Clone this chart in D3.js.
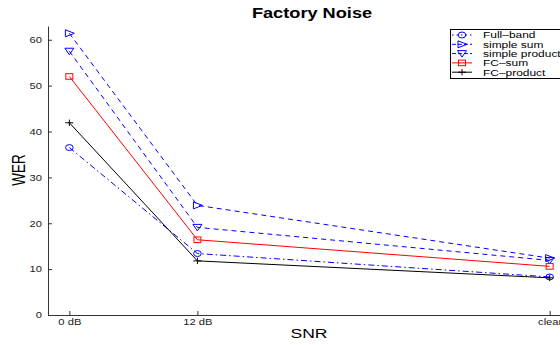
<!DOCTYPE html>
<html>
<head>
<meta charset="utf-8">
<script src="https://cdn.jsdelivr.net/npm/d3@7/dist/d3.min.js"></script>
<style>
  body { margin: 0; background: #fff; }
  svg { display: block; font-family: "Liberation Sans", Arial, sans-serif; }
</style>
</head>
<body>
<svg id="chart" width="560" height="345"></svg>
<script>
// SNR positions (clear plotted as 45 dB)
const snr = [0, 12, 45];
const snrLabels = ["0 dB", "12 dB", "clear"];
const yTicks = [0, 10, 20, 30, 40, 50, 60];

const fullBand = [36.5, 13.4, 8.3];
const simpleSum = [61.4, 23.9, 12.4];
const simpleProduct = [57.5, 19.1, 11.9];
const fcSum = [52.0, 16.4, 10.6];
const fcProduct = [41.9, 11.8, 8.1];

const seriesNames = ["Full\u2013band", "simple sum", "simple product", "FC\u2013sum", "FC\u2013product"];

const series = [
  { name: seriesNames[0], values: fullBand, color: "#0000ff", dash: "6,3,1.5,3", marker: "circle" },
  { name: seriesNames[1], values: simpleSum, color: "#0000ff", dash: "5,4", marker: "triRight" },
  { name: seriesNames[2], values: simpleProduct, color: "#0000ff", dash: "5,4", marker: "triDown" },
  { name: seriesNames[3], values: fcSum, color: "#ff0000", dash: null, marker: "square" },
  { name: seriesNames[4], values: fcProduct, color: "#000000", dash: null, marker: "plus" }
];

// the original figure is stretched horizontally, so text is widened too
const sx = 1.3;

const svg = d3.select("#chart");
const mLeft = 48, mBottom = 315, mTop = 26, mRight = 571;

const x = d3.scaleLinear().domain([-2, 47]).range([mLeft, mRight]);
const y = d3.scaleLinear().domain([0, 63]).range([mBottom, mTop]);

function stretchText(g) {
  g.selectAll("text").each(function () {
    const t = d3.select(this);
    const tx = +t.attr("x") || 0, ty = +t.attr("y") || 0;
    t.attr("transform", `translate(${tx},${ty}) scale(${sx},1)`).attr("x", 0).attr("y", 0);
  });
}

// y axis
svg.append("g")
  .attr("transform", `translate(${mLeft},0)`)
  .call(d3.axisLeft(y).tickValues(yTicks).tickSize(-4).tickPadding(6).tickSizeOuter(0))
  .call(g => g.selectAll("text").attr("font-size", 8.6).attr("fill", "#222"))
  .call(g => g.selectAll("line,path").attr("stroke", "#333"))
  .call(stretchText);

// x axis
svg.append("g")
  .attr("transform", `translate(0,${mBottom})`)
  .call(d3.axisBottom(x).tickValues(snr).tickFormat((d, i) => snrLabels[i]).tickSize(-4).tickPadding(4).tickSizeOuter(0))
  .call(g => g.selectAll("text").attr("font-size", 8.6).attr("fill", "#222"))
  .call(g => g.selectAll("line,path").attr("stroke", "#333"))
  .call(stretchText);

function drawMarker(g, type, cx, cy, color) {
  if (type === "circle") {
    g.append("ellipse").attr("cx", cx).attr("cy", cy).attr("rx", 3.8).attr("ry", 3)
      .attr("fill", "none").attr("stroke", color);
  } else if (type === "triRight") {
    g.append("path").attr("d", `M${cx - 4},${cy - 3.5}L${cx + 5},${cy}L${cx - 4},${cy + 3.5}Z`)
      .attr("fill", "none").attr("stroke", color);
  } else if (type === "triDown") {
    g.append("path").attr("d", `M${cx - 4.5},${cy - 3}L${cx + 4.5},${cy - 3}L${cx},${cy + 3.5}Z`)
      .attr("fill", "none").attr("stroke", color);
  } else if (type === "square") {
    g.append("rect").attr("x", cx - 3.5).attr("y", cy - 2.8).attr("width", 7).attr("height", 5.6)
      .attr("fill", "none").attr("stroke", color);
  } else if (type === "plus") {
    g.append("path").attr("d", `M${cx - 4},${cy}H${cx + 4}M${cx},${cy - 3.2}V${cy + 3.2}`)
      .attr("stroke", color);
  }
}

const line = d3.line().x((d, i) => x(snr[i])).y(d => y(d));

series.forEach(s => {
  svg.append("path")
    .datum(s.values)
    .attr("d", line)
    .attr("fill", "none")
    .attr("stroke", s.color)
    .attr("stroke-width", 1)
    .attr("stroke-dasharray", s.dash);
  const mg = svg.append("g");
  s.values.forEach((v, i) => drawMarker(mg, s.marker, x(snr[i]), y(v), s.color));
});

// title and labels
svg.append("text").attr("transform", `translate(312,18) scale(${sx},1)`).attr("text-anchor", "middle")
  .attr("font-size", 14).attr("font-weight", "bold").text("Factory Noise");
svg.append("text").attr("transform", `translate(309,338) scale(${sx},1)`).attr("text-anchor", "middle")
  .attr("font-size", 13.5).text("SNR");
svg.append("text").attr("transform", `translate(25,170) scale(${sx},1) rotate(-90)`).attr("text-anchor", "middle")
  .attr("font-size", 13.5).text("WER");

// legend
const legend = svg.append("g").attr("transform", "translate(450,29)");
legend.append("rect").attr("x", 0.5).attr("y", 0.5).attr("width", 120).attr("height", 49)
  .attr("fill", "#fff").attr("stroke", "#000").attr("stroke-width", 1);
series.forEach((s, i) => {
  const ly = 6 + i * 9.3;
  legend.append("line").attr("x1", 2).attr("x2", 22).attr("y1", ly).attr("y2", ly)
    .attr("stroke", s.color).attr("stroke-dasharray", s.dash ? (i === 0 ? "1.5,3" : "4,2") : null);
  drawMarker(legend, s.marker, 12, ly, s.color);
  legend.append("text").attr("transform", `translate(33,${ly + 3.3}) scale(${sx},1)`)
    .attr("font-size", 9.2).text(s.name);
});
</script>
</body>
</html>
